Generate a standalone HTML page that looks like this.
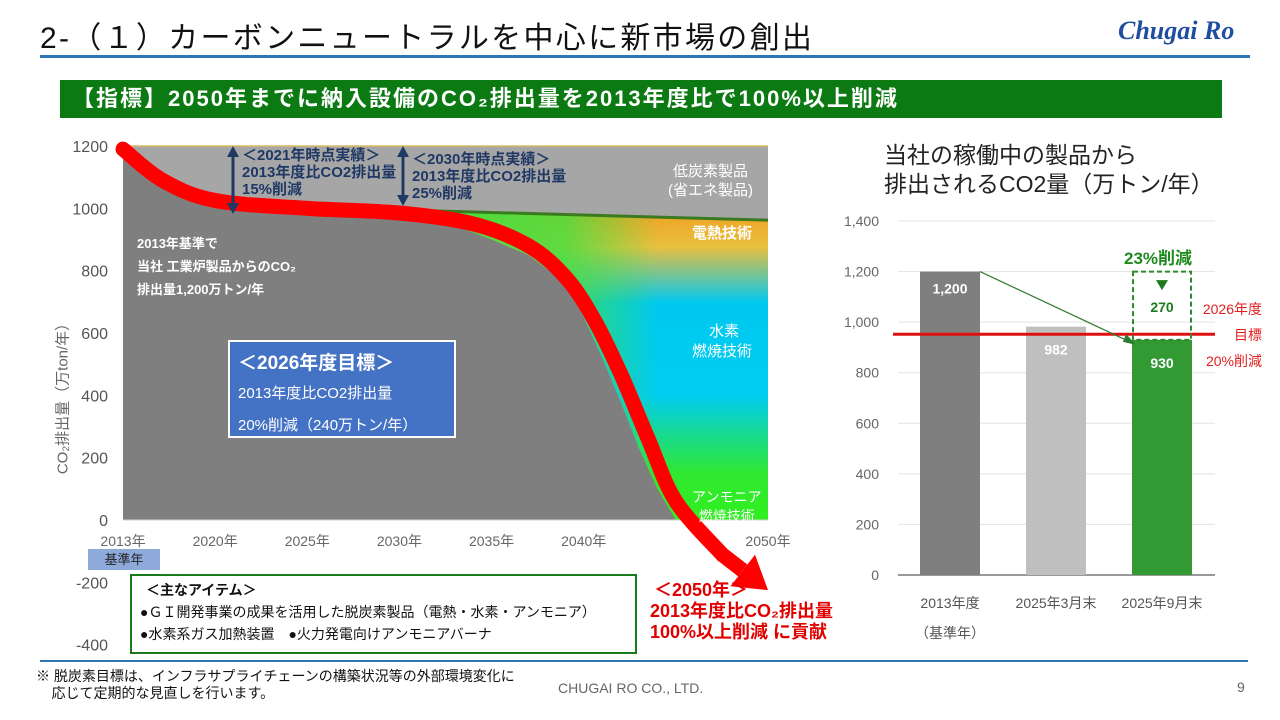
<!DOCTYPE html>
<html><head><meta charset="utf-8">
<style>
body{margin:0;width:1280px;height:720px;overflow:hidden;background:#fff;font-family:"Liberation Sans","Noto Sans CJK JP",sans-serif;position:relative}
.a{position:absolute;white-space:nowrap}
</style></head><body>
<div class="a" style="left:40px;top:13px;font-size:30px;color:#111;letter-spacing:2.3px">2-（１）カーボンニュートラルを中心に新市場の創出</div>
<div class="a" style="left:1118px;top:16px;font-size:26px;font-weight:bold;font-style:italic;color:#1f4e9e;font-family:'Liberation Serif',serif">Chugai Ro</div>
<div class="a" style="left:40px;top:55px;width:1210px;height:3px;background:#2e75b6"></div>
<div class="a" style="left:60px;top:80px;width:1162px;height:38px;background:#0b7a12;color:#fff;font-weight:bold;font-size:22px;letter-spacing:2px;line-height:38px;padding-left:12px;box-sizing:border-box">【指標】2050年までに納入設備のCO₂排出量を2013年度比で100%以上削減</div>

<svg class="a" style="left:0;top:0" width="1280" height="720" id="svg">
<defs>
<linearGradient id="gv" x1="0" y1="0" x2="0" y2="1">
<stop offset="0" stop-color="#f0a020"/><stop offset="0.12" stop-color="#e8c040"/><stop offset="0.3" stop-color="#00c8f0"/><stop offset="0.6" stop-color="#00ccf0"/><stop offset="0.85" stop-color="#30e830"/><stop offset="1" stop-color="#30f020"/></linearGradient>
<linearGradient id="gh" x1="0" y1="0" x2="1" y2="0">
<stop offset="0" stop-color="#40e040" stop-opacity="1"/><stop offset="0.45" stop-color="#40e040" stop-opacity="0.8"/><stop offset="0.7" stop-color="#40e040" stop-opacity="0"/></linearGradient>
</defs>
</svg>

<div class="a" style="left:242px;top:147px;font-size:15px;font-weight:bold;color:#1f3864;line-height:17px">＜2021年時点実績＞<br>2013年度比CO2排出量<br>15%削減</div>
<div class="a" style="left:412px;top:151px;font-size:15px;font-weight:bold;color:#1f3864;line-height:17px">＜2030年時点実績＞<br>2013年度比CO2排出量<br>25%削減</div>
<div class="a" style="left:668px;top:162px;font-size:15px;color:#fff;text-align:center;line-height:19px">低炭素製品<br>(省エネ製品)</div>
<div class="a" style="left:692px;top:222px;font-size:15px;color:#fff;font-weight:bold">電熱技術</div>
<div class="a" style="left:692px;top:322px;font-size:15px;color:#fff;text-align:center;line-height:20px">&nbsp;水素<br>燃焼技術</div>
<div class="a" style="left:692px;top:488px;font-size:14px;color:#fff;text-align:center;line-height:19px">アンモニア<br>燃焼技術</div>
<div class="a" style="left:137px;top:232px;font-size:13px;color:#fff;font-weight:bold;line-height:23px">2013年基準で<br>当社 工業炉製品からのCO₂<br>排出量1,200万トン/年</div>
<div class="a" style="left:228px;top:340px;width:228px;height:98px;background:#4472c4;border:2px solid #fff;box-sizing:border-box;color:#fff;padding:6px 8px">
<div style="font-size:19px;font-weight:bold">＜2026年度目標＞</div>
<div style="font-size:15px;margin-top:7px">2013年度比CO2排出量</div>
<div style="font-size:15px;margin-top:11px">20%削減（240万トン/年）</div></div>
<div class="a" style="left:62px;top:395px;font-size:15px;color:#666;transform:translate(-50%,-50%) rotate(-90deg)">CO₂排出量（万ton/年）</div>
<div class="a" style="left:88px;top:549px;width:72px;height:21px;background:#8eaadb;font-size:13px;color:#222;text-align:center;line-height:21px">基準年</div>
<div class="a" style="left:130px;top:574px;width:507px;height:80px;border:2px solid #1a7a1a;box-sizing:border-box;font-size:14px;color:#111;padding:3px 8px;line-height:22px">
<div style="font-weight:bold;padding-left:6px">＜主なアイテム＞</div>
<div>●ＧＩ開発事業の成果を活用した脱炭素製品（電熱・水素・アンモニア）</div>
<div>●水素系ガス加熱装置　●火力発電向けアンモニアバーナ</div></div>
<div class="a" style="left:650px;top:580px;font-size:18px;font-weight:bold;color:#e00000;line-height:21px"><span style="padding-left:4px">＜2050年＞</span><br>2013年度比CO₂排出量<br>100%以上削減 に貢献</div>

<div class="a" style="left:884px;top:141px;font-size:23px;color:#222;line-height:29px">当社の稼働中の製品から<br>排出されるCO2量（万トン/年）</div>
<div class="a" style="left:1124px;top:244px;font-size:17px;font-weight:bold;color:#1e8a1e">23%削減</div>
<div class="a" style="left:1194px;top:296px;font-size:14px;color:#e02020;text-align:right;line-height:26px;width:68px">2026年度<br>目標<br>20%削減</div>

<div class="a" style="left:40px;top:660px;width:1208px;height:2px;background:#2e75b6"></div>
<div class="a" style="left:36px;top:668px;font-size:14px;color:#111;line-height:17px">※ 脱炭素目標は、インフラサプライチェーンの構築状況等の外部環境変化に<br>&nbsp;&nbsp;&nbsp;&nbsp;応じて定期的な見直しを行います。</div>
<div class="a" style="left:558px;top:680px;font-size:14px;color:#666">CHUGAI RO CO., LTD.</div>
<div class="a" style="left:1237px;top:679px;font-size:14px;color:#666">9</div>

<script>
// Left chart data
const tickYears=[2013,2020,2025,2030,2035,2040,2045,2050];
const tickLabels=['2013年','2020年','2025年','2030年','2035年','2040年','','2050年'];
const yTicks=[1200,1000,800,600,400,200,0,-200,-400];
const baseYears=[2013,2015,2017,2020,2023,2026,2030,2033,2035,2037,2039,2040,2041,2042,2043,2044,2045];
const baseVals=[1200,1120,1060,1015,990,975,962,945,900,850,760,650,520,380,230,100,0];
const newTechYears=[2030,2050];
const newTechTop=[995,962];
const arrowYears=[2013,2016,2020,2025,2030,2034,2037,2039,2040.5,2042,2043.5,2045,2047.5];
const arrowVals=[1190,1090,1025,1000,985,950,880,780,650,470,260,60,-110];
const arrowTip=[2050,-225];
// Right chart data
const barCats=['2013年度','2025年3月末','2025年9月末'];
const barVals=[1200,982,930];
const barLabels=['1,200','982','930'];
const rTicks=[0,200,400,600,800,1000,1200,1400];
const targetVal=960;
const reductionVal=270;

const NS='http://www.w3.org/2000/svg';
const svg=document.getElementById('svg');
function mk(t,a,p){const e=document.createElementNS(NS,t);for(const k in a)e.setAttribute(k,a[k]);(p||svg).appendChild(e);return e;}
const X0=123,X1=768,Y0=520,YS=374/1200;
function lx(yr){for(let i=0;i<tickYears.length-1;i++){if(yr<=tickYears[i+1]||i==tickYears.length-2){const t=(yr-tickYears[i])/(tickYears[i+1]-tickYears[i]);return X0+(i+t)*(X1-X0)/(tickYears.length-1);}}}
function ly(v){return Y0-v*YS;}

let g=mk('g',{});

let r=mk('rect',{x:X0,y:ly(1200),width:X1-X0,height:ly(0)-ly(1200),fill:'#a6a6a6'},g);

mk('line',{x1:X0,y1:ly(1200),x2:X1,y2:ly(1200),stroke:'#d9b860','stroke-width':1.5},g);
let pts=[];pts.push([lx(newTechYears[0]),ly(newTechTop[0])]);pts.push([lx(newTechYears[1]),ly(newTechTop[1])]);pts.push([lx(2050),ly(0)]);
for(let i=baseYears.length-1;i>=0;i--){if(baseYears[i]>=2030)pts.push([lx(baseYears[i]),ly(baseVals[i])]);}
const ps=pts.map(p=>p.join(',')).join(' ');
let a1=mk('polygon',{points:ps,fill:'url(#gv)'},g);

let a2=mk('polygon',{points:ps,fill:'url(#gh)'},g);

let tl=mk('line',{x1:lx(newTechYears[0]),y1:ly(newTechTop[0]),x2:lx(newTechYears[1]),y2:ly(newTechTop[1]),stroke:'#3a7a20','stroke-width':3},g);

let bp=[[X0,ly(0)]];baseYears.forEach((y,i)=>bp.push([lx(y),ly(baseVals[i])]));
let da=mk('polygon',{points:bp.map(p=>p.join(',')).join(' '),fill:'#7f7f7f'},g);

mk('line',{x1:X0,y1:ly(0),x2:X1,y2:ly(0),stroke:'#d0d0d0','stroke-width':1},g);
tickYears.forEach((y,i)=>{if(!tickLabels[i])return;let t=mk('text',{x:lx(y),y:546,'font-size':14,fill:'#666','text-anchor':'middle'},g);t.textContent=tickLabels[i];
});
yTicks.forEach(v=>{let t=mk('text',{x:108,y:ly(v)+6,'font-size':16,fill:'#555','text-anchor':'end'},g);t.textContent=v;
});
const ap=arrowYears.map((y,i)=>[lx(y),ly(arrowVals[i])]);
let d='M'+ap[0].join(',');
for(let i=0;i<ap.length-1;i++){const p0=ap[Math.max(0,i-1)],p1=ap[i],p2=ap[i+1],p3=ap[Math.min(ap.length-1,i+2)];
d+=' C'+(p1[0]+(p2[0]-p0[0])/6)+','+(p1[1]+(p2[1]-p0[1])/6)+' '+(p2[0]-(p3[0]-p1[0])/6)+','+(p2[1]-(p3[1]-p1[1])/6)+' '+p2.join(',');}
let ar=mk('path',{d:d,fill:'none',stroke:'#ff0000','stroke-width':15,'stroke-linecap':'round'},g);

const last=ap[ap.length-1],tip=[lx(arrowTip[0]),ly(arrowTip[1])];
const dx=tip[0]-last[0],dy=tip[1]-last[1],L=Math.hypot(dx,dy),ux=dx/L,uy=dy/L;
const bx=tip[0]-ux*32,by=tip[1]-uy*32;
let ah=mk('polygon',{points:[tip,[bx-uy*20,by+ux*20],[bx+uy*20,by-ux*20]].map(p=>p.join(',')).join(' '),fill:'#ff0000'},g);
mk('line',{x1:last[0],y1:last[1],x2:bx,y2:by,stroke:'#ff0000','stroke-width':15},g);

[[233,146,214],[403,146,206]].forEach(a=>{mk('line',{x1:a[0],y1:a[1]+8,x2:a[0],y2:a[2]-8,stroke:'#1f3864','stroke-width':3},g);
mk('polygon',{points:`${a[0]},${a[1]} ${a[0]-6},${a[1]+11} ${a[0]+6},${a[1]+11}`,fill:'#1f3864'},g);
mk('polygon',{points:`${a[0]},${a[2]} ${a[0]-6},${a[2]-11} ${a[0]+6},${a[2]-11}`,fill:'#1f3864'},g);});

const RX0=898,RX1=1215,RY0=575,RS=354/1400;
function ry(v){return RY0-v*RS;}
function rx(i){return 950+i*106;}
let rg=mk('g',{});

rTicks.forEach(v=>{mk('line',{x1:RX0,y1:ry(v),x2:RX1,y2:ry(v),stroke:v?'#e3e3e3':'#333','stroke-width':1},rg);
let t=mk('text',{x:879,y:ry(v)+5,'font-size':14,fill:'#666','text-anchor':'end'},rg);t.textContent=v.toLocaleString('en-US');
});
const colors=['#7f7f7f','#bfbfbf','#339933'];
barVals.forEach((v,i)=>{let b=mk('rect',{x:rx(i)-30,y:ry(v),width:60,height:ry(0)-ry(v),fill:colors[i]},rg);

let t=mk('text',{x:rx(i),y:ry(v)+(i==0?22:28),'font-size':14,'font-weight':'bold',fill:'#fff','text-anchor':'middle'},rg);t.textContent=barLabels[i];
let c=mk('text',{x:rx(i),y:608,'font-size':14,fill:'#555','text-anchor':'middle'},rg);c.textContent=barCats[i];
});
let c2=mk('text',{x:rx(0),y:638,'font-size':14,fill:'#555','text-anchor':'middle'},rg);c2.textContent='（基準年）';
let tg=mk('line',{x1:893,y1:ry(targetVal)+2,x2:RX1,y2:ry(targetVal)+2,stroke:'#e01010','stroke-width':3},rg);

let db=mk('rect',{x:rx(2)-29,y:ry(barVals[0]),width:58,height:ry(barVals[2])-ry(barVals[0]),fill:'none',stroke:'#2e8b2e','stroke-width':2,'stroke-dasharray':'5,3'},rg);

mk('polygon',{points:`${rx(2)-6},${ry(1190)+6} ${rx(2)+6},${ry(1190)+6} ${rx(2)},${ry(1190)+16}`,fill:'#1e7a1e'},rg);
let rt=mk('text',{x:rx(2),y:ry(1060)+5,'font-size':14,'font-weight':'bold',fill:'#1e7a1e','text-anchor':'middle'},rg);rt.textContent=reductionVal;

let gl=mk('line',{x1:rx(0)+30,y1:ry(barVals[0]),x2:rx(2)-28,y2:ry(barVals[2])+4,stroke:'#2e7d2e','stroke-width':1.2},rg);

mk('polygon',{points:`${rx(2)-26},${ry(barVals[2])+5} ${rx(2)-36},${ry(barVals[2])-6} ${rx(2)-39},${ry(barVals[2])+2}`,fill:'#2e7d2e'},rg);
</script>
</body></html>
